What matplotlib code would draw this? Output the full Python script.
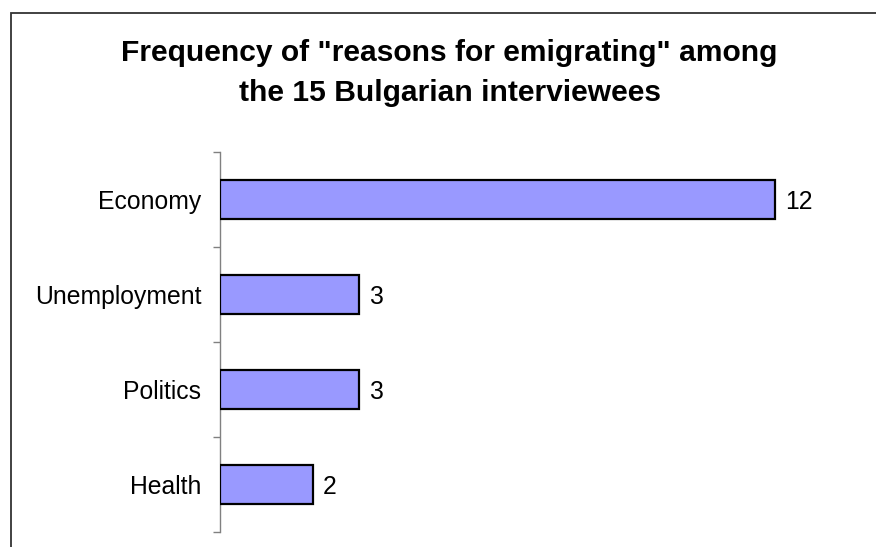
import matplotlib
matplotlib.use("Agg")
import matplotlib.pyplot as plt
from matplotlib.patches import Rectangle

plt.rcParams['font.family'] = ['Liberation Sans', 'DejaVu Sans']

categories = ["Economy", "Unemployment", "Politics", "Health"]
counts = [12, 3, 3, 2]
title_lines = ['Frequency of "reasons for emigrating" among',
               'the 15 Bulgarian interviewees']

W, H = 876, 547
fig = plt.figure(figsize=(W / 100, H / 100), dpi=100)

# outer chart frame (runs off the right and bottom edges)
fig.patches.append(Rectangle((11 / W, -0.05), 1.2, 1 - 13 / H + 0.05,
                             transform=fig.transFigure, fill=False,
                             edgecolor="#333333", linewidth=1.3, zorder=0))

ax = fig.add_axes([220 / W, 1 - 532 / H, 648 / W, (532 - 152) / H])
ypos = list(range(len(categories)))
ax.barh(ypos, counts, height=0.41, color="#9999FF", edgecolor="black",
        linewidth=1.6, zorder=3)
ax.set_xlim(0, 14)
ax.set_ylim(len(categories) - 0.5, -0.5)

for s in ["top", "right", "bottom"]:
    ax.spines[s].set_visible(False)
ax.spines["left"].set_color("#808080")
ax.spines["left"].set_linewidth(1.0)
ax.set_xticks([])

ax.set_yticks([i - 0.5 for i in range(len(categories) + 1)])
ax.set_yticklabels([])
ax.tick_params(axis="y", which="major", direction="out", length=5,
               width=1.0, color="#808080")
ax.set_yticks(ypos, minor=True)
ax.set_yticklabels(categories, minor=True, fontsize=17.8)
ax.tick_params(axis="y", which="minor", length=0, pad=13.5)

for y, v in zip(ypos, counts):
    ax.annotate(str(v), (v, y), xytext=(7, 0), textcoords="offset points",
                ha="left", va="center_baseline", fontsize=17.8)

fig.text(449.5 / W, 1 - 61 / H, title_lines[0], ha="center", va="baseline",
         fontsize=21.6, fontweight="bold")
fig.text(449.5 / W, 1 - 101 / H, title_lines[1], ha="center", va="baseline",
         fontsize=21.6, fontweight="bold")

fig.savefig("out.png", dpi=100, facecolor="white")
